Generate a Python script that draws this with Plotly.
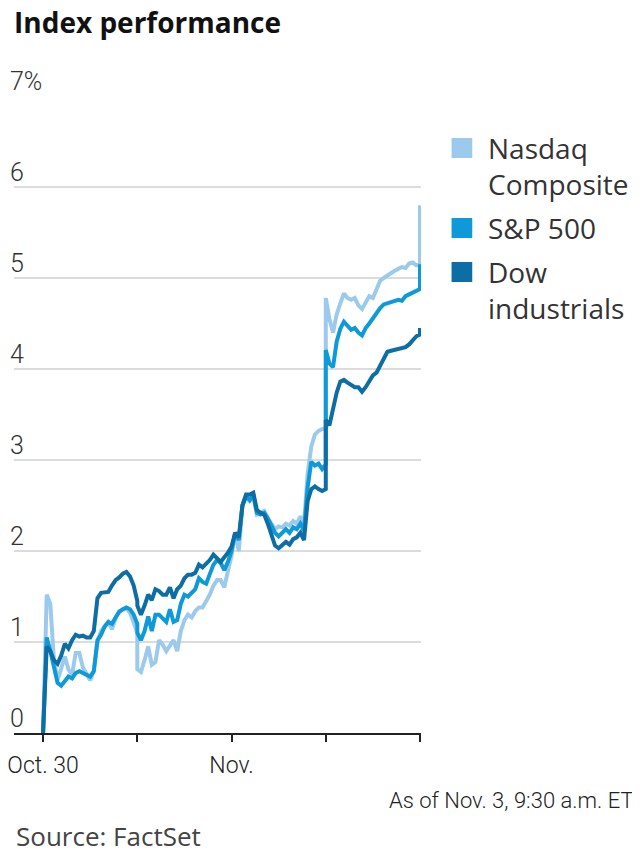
import plotly.graph_objects as go

# ---- data: % change, 15-minute steps (9:30 .. 16:00) for each session ----
sessions = ["Oct. 30", "Oct. 31", "Nov. 1", "Nov. 2"]
steps_per_session = 26

nasdaq_oct30 = [0.00, 1.52, 1.42, 0.80, 0.58, 0.70, 0.84, 0.70, 0.64, 0.88, 0.88, 0.72, 0.64,
                0.58, 0.68, 1.00, 1.12, 1.17, 1.22, 1.14, 1.26, 1.34, 1.36, 1.37, 1.32, 1.22, 1.10]
nasdaq_oct31 = [0.70, 0.67, 0.80, 0.95, 0.75, 0.78, 1.02, 0.97, 0.90, 0.96, 1.02, 0.90, 1.12,
                1.24, 1.30, 1.27, 1.34, 1.38, 1.38, 1.45, 1.52, 1.62, 1.68, 1.68, 1.60, 1.78, 1.92]
nasdaq_nov1 = [1.95, 2.20, 2.00, 2.50, 2.60, 2.55, 2.60, 2.40, 2.42, 2.44, 2.36, 2.30, 2.24,
               2.27, 2.26, 2.30, 2.28, 2.33, 2.30, 2.38, 2.30, 2.85, 3.15, 3.28, 3.32, 3.34, 3.35]
nasdaq_nov2 = [4.78, 4.55, 4.40, 4.60, 4.72, 4.83, 4.78, 4.76, 4.78, 4.70, 4.66, 4.72, 4.80,
               4.78, 4.88, 4.97, 5.00, 5.03, 5.06, 5.08, 5.10, 5.12, 5.11, 5.16, 5.17, 5.14, 5.15]
nasdaq_nov3_open = 5.80

sp500_oct30 = [0.00, 1.05, 0.90, 0.70, 0.55, 0.52, 0.57, 0.62, 0.60, 0.66, 0.68, 0.66, 0.64,
               0.62, 0.68, 1.02, 1.08, 1.17, 1.22, 1.20, 1.27, 1.33, 1.36, 1.38, 1.36, 1.30, 1.20]
sp500_oct31 = [1.10, 1.02, 1.12, 1.28, 1.12, 1.30, 1.30, 1.26, 1.22, 1.36, 1.22, 1.24, 1.42,
               1.52, 1.50, 1.54, 1.58, 1.70, 1.66, 1.64, 1.75, 1.85, 1.90, 1.87, 1.79, 1.88, 2.00]
sp500_nov1 = [2.00, 2.20, 2.12, 2.50, 2.60, 2.56, 2.62, 2.42, 2.40, 2.42, 2.36, 2.28, 2.20,
              2.16, 2.20, 2.24, 2.20, 2.26, 2.24, 2.30, 2.22, 2.70, 2.98, 2.94, 2.96, 2.90, 2.95]
sp500_nov2 = [4.21, 4.06, 4.02, 4.30, 4.44, 4.52, 4.47, 4.43, 4.45, 4.40, 4.37, 4.45, 4.50,
              4.56, 4.62, 4.67, 4.71, 4.72, 4.74, 4.75, 4.76, 4.75, 4.80, 4.82, 4.84, 4.87, 4.88]
sp500_nov3_open = 5.15

dow_oct30 = [0.00, 0.95, 0.90, 0.80, 0.76, 0.85, 0.98, 0.93, 1.02, 1.08, 1.06, 1.07, 1.05,
             1.05, 1.12, 1.48, 1.54, 1.55, 1.55, 1.62, 1.68, 1.71, 1.75, 1.77, 1.72, 1.62, 1.45]
dow_oct31 = [1.40, 1.30, 1.40, 1.52, 1.46, 1.58, 1.56, 1.52, 1.52, 1.60, 1.48, 1.58, 1.62,
             1.70, 1.74, 1.74, 1.76, 1.85, 1.82, 1.86, 1.90, 1.96, 1.92, 1.88, 1.93, 1.98, 2.05]
dow_nov1 = [2.05, 2.20, 2.15, 2.50, 2.62, 2.62, 2.64, 2.45, 2.42, 2.40, 2.30, 2.16, 2.06,
            2.03, 2.06, 2.10, 2.07, 2.13, 2.15, 2.20, 2.12, 2.55, 2.68, 2.71, 2.68, 2.66, 2.68]
dow_nov2 = [3.44, 3.38, 3.56, 3.74, 3.86, 3.88, 3.85, 3.83, 3.80, 3.80, 3.75, 3.80, 3.86,
            3.93, 3.96, 4.03, 4.12, 4.19, 4.20, 4.21, 4.22, 4.23, 4.24, 4.27, 4.32, 4.36, 4.38]
dow_nov3_open = 4.45

series_names = ["Nasdaq Composite", "S&P 500", "Dow industrials"]
legend_labels = ["Nasdaq<br>Composite", "S&P 500", "Dow<br>industrials"]
colors = ["#9ccaec", "#0e9ad8", "#0c6ea4"]

y_tick_values = [0, 1, 2, 3, 4, 5, 6, 7]
y_tick_labels = ["0", "1", "2", "3", "4", "5", "6", "7%"]
x_tick_values = [0, 1, 2, 3, 4]
x_tick_labels = ["Oct. 30", "", "Nov.", "", ""]


def build(day_lists, last_open):
    xs, ys = [], []
    for d, vals in enumerate(day_lists):
        for k, v in enumerate(vals):
            xs.append(d + k / steps_per_session)
            ys.append(v)
    xs.append(len(day_lists))
    ys.append(last_open)
    return xs, ys


all_series = [
    build([nasdaq_oct30, nasdaq_oct31, nasdaq_nov1, nasdaq_nov2], nasdaq_nov3_open),
    build([sp500_oct30, sp500_oct31, sp500_nov1, sp500_nov2], sp500_nov3_open),
    build([dow_oct30, dow_oct31, dow_nov1, dow_nov2], dow_nov3_open),
]

NARROW = "Roboto, Liberation Sans, sans-serif"
REG = "Open Sans, Noto Sans, sans-serif"

fig = go.Figure()
for (xs, ys), name, col in zip(all_series, series_names, colors):
    fig.add_trace(go.Scatter(x=xs, y=ys, mode="lines", name=name,
                             line=dict(color=col, width=4), hoverinfo="skip"))

# page has an 8px body margin: figure pixel = page pixel - 8
OFF = 8
W, H = 640 - OFF, 853 - OFF
L, R, T, B = 0, 219, 96 - OFF, 853 - 733
pw, ph = W - L - R, H - T - B


def px_x(p):
    return (p - OFF - L) / pw


def px_y(p):
    return (H - B - (p - OFF)) / ph


fig.update_layout(
    width=W, height=H,
    margin=dict(l=L, r=R, t=T, b=B, pad=0),
    paper_bgcolor="white", plot_bgcolor="white",
    showlegend=False,
    hovermode=False,
    title=dict(text="<b>Index performance</b>", x=0, xref="paper", xanchor="left",
               y=1 - 15 / H, yref="container", yanchor="middle",
               font=dict(family=REG, size=28, color="#111111")),
    xaxis=dict(range=[-0.3085, 4.0105], tickvals=x_tick_values, ticktext=x_tick_labels,
               showgrid=False, zeroline=False, showline=True, linecolor="#222222", linewidth=1.5,
               ticks="outside", ticklen=7, tickwidth=1.5, tickcolor="#222222",
               ticklabeloverflow="allow", ticklabelstandoff=4,
               tickfont=dict(family=NARROW, size=23, color="#222222", weight=300)),
    yaxis=dict(range=[0, 7], tickvals=y_tick_values, ticktext=y_tick_labels,
               showgrid=True, gridcolor="#dcdcdc", gridwidth=1.5, zeroline=False,
               showline=False, ticks="", ticklabelposition="inside top",
               ticklabeloverflow="allow", ticklabelshift=3, ticklabelstandoff=-7,
               tickfont=dict(family=NARROW, size=25, color="#333333", weight=300)),
)

# custom legend: square swatches + labels
swatch_tops = [138, 218, 262]
label_mids = [165.5, 228, 290]
for top, mid, lab, col in zip(swatch_tops, label_mids, legend_labels, colors):
    fig.add_shape(type="rect", xref="paper", yref="paper",
                  x0=px_x(452), x1=px_x(473), y0=px_y(top + 20), y1=px_y(top),
                  fillcolor=col, line=dict(width=0))
    fig.add_annotation(text=lab, xref="paper", yref="paper", x=px_x(487), y=px_y(mid),
                       xanchor="left", yanchor="middle", align="left", showarrow=False,
                       font=dict(family=REG, size=28, color="#333333"))

fig.add_annotation(text="As of Nov. 3, 9:30 a.m. ET", xref="paper", yref="paper",
                   x=px_x(639), y=px_y(800), xanchor="right", yanchor="middle",
                   showarrow=False, font=dict(family=NARROW, size=22, color="#222222", weight=300))
fig.add_annotation(text="Source: FactSet", xref="paper", yref="paper",
                   x=px_x(OFF), y=px_y(836), xanchor="left", yanchor="middle",
                   showarrow=False, font=dict(family=REG, size=26, color="#444444"))

fig.write_html("out.html")
